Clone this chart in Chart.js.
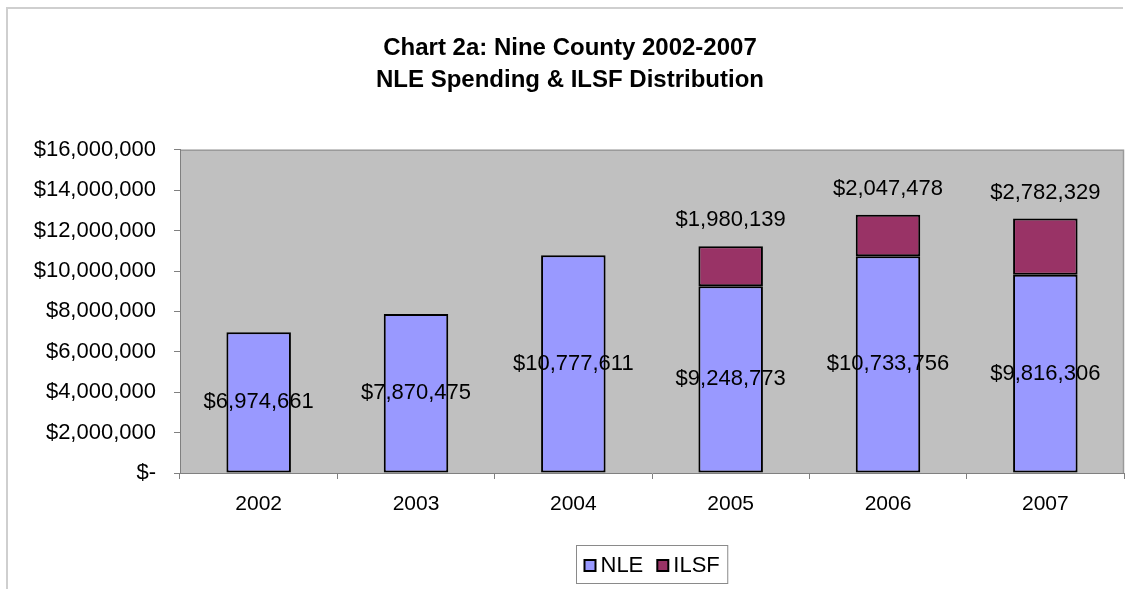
<!DOCTYPE html>
<html>
<head>
<meta charset="utf-8">
<script src="https://cdn.jsdelivr.net/npm/chart.js@4/dist/chart.umd.min.js"></script>
<style>
  html, body { margin: 0; padding: 0; background: #ffffff; }
  canvas { display: block; }
</style>
</head>
<body>
<canvas id="c" width="1129" height="589"></canvas>
<script>
const categories = ['2002', '2003', '2004', '2005', '2006', '2007'];
const nleValues = [6974661, 7870475, 10777611, 9248773, 10733756, 9816306];
const ilsfValues = [null, null, null, 1980139, 2047478, 2782329];
const yTickValues = [0, 2000000, 4000000, 6000000, 8000000, 10000000, 12000000, 14000000, 16000000];
const titleLines = ['Chart 2a: Nine County 2002-2007', 'NLE Spending & ILSF Distribution'];
const seriesNames = ['NLE', 'ILSF'];

const FONT = "Arial, 'Liberation Sans', Helvetica, sans-serif";
const NLE_COLOR = '#9999ff';
const ILSF_COLOR = '#993366';

function money(v) {
  if (!v) return '$-';
  return '$' + Math.round(v).toLocaleString('en-US');
}

const backgroundPlugin = {
  id: 'bg',
  beforeDraw(chart) {
    const ctx = chart.ctx, a = chart.chartArea;
    ctx.save();
    ctx.fillStyle = '#ffffff';
    ctx.fillRect(0, 0, chart.width, chart.height);
    // outer frame (left and top)
    ctx.strokeStyle = '#cfcfcf';
    ctx.lineWidth = 2;
    ctx.beginPath();
    ctx.moveTo(7, chart.height);
    ctx.lineTo(7, 8);
    ctx.lineTo(chart.width - 6, 8);
    ctx.stroke();
    // plot area
    ctx.fillStyle = '#c0c0c0';
    ctx.fillRect(a.left, a.top, a.right - a.left, a.bottom - a.top);
    ctx.strokeStyle = '#9a9a9a';
    ctx.lineWidth = 1.5;
    ctx.beginPath();
    ctx.moveTo(a.left, a.top + 0.5);
    ctx.lineTo(a.right - 0.5, a.top + 0.5);
    ctx.lineTo(a.right - 0.5, a.bottom);
    ctx.stroke();
    ctx.restore();
  }
};

const labelPlugin = {
  id: 'valueLabels',
  afterDatasetsDraw(chart) {
    const ctx = chart.ctx;
    ctx.save();
    ctx.font = '22px ' + FONT;
    ctx.fillStyle = '#000000';
    ctx.textAlign = 'center';
    ctx.textBaseline = 'middle';
    chart.data.datasets.forEach((ds, di) => {
      const meta = chart.getDatasetMeta(di);
      meta.data.forEach((el, i) => {
        const v = ds.data[i];
        if (v == null) return;
        if (di === 0) {
          ctx.fillText(money(v), el.x, (el.y + el.base) / 2);
        } else {
          ctx.fillText(money(v), el.x, el.y - 26);
        }
      });
    });
    ctx.restore();
  }
};

const legendPlugin = {
  id: 'boxLegend',
  afterDraw(chart) {
    const ctx = chart.ctx, a = chart.chartArea;
    ctx.save();
    ctx.font = '22px ' + FONT;
    const sw = 11, gapText = 5, gapItem = 14, padX = 8;
    const colors = [NLE_COLOR, ILSF_COLOR];
    const widths = seriesNames.map(n => ctx.measureText(n).width);
    let total = padX * 2;
    widths.forEach((w, i) => { total += sw + gapText + w + (i < widths.length - 1 ? gapItem : 0); });
    const boxH = 38;
    const cx = (a.left + a.right) / 2;
    const left = Math.round(cx - total / 2) + 0.5;
    const top = chart.height - 44 + 0.5;
    ctx.strokeStyle = '#8a8a8a';
    ctx.lineWidth = 1;
    ctx.fillStyle = '#ffffff';
    ctx.fillRect(left, top, total, boxH);
    ctx.strokeRect(left, top, total, boxH);
    let x = left + padX;
    const cy = top + boxH / 2;
    seriesNames.forEach((n, i) => {
      ctx.fillStyle = colors[i];
      ctx.fillRect(x, cy - sw / 2 + 1, sw, sw);
      ctx.strokeStyle = '#000000';
      ctx.lineWidth = 2;
      ctx.strokeRect(x, cy - sw / 2 + 1, sw, sw);
      x += sw + gapText;
      ctx.fillStyle = '#000000';
      ctx.textAlign = 'left';
      ctx.textBaseline = 'middle';
      ctx.fillText(n, x, cy + 1);
      x += widths[i] + gapItem;
    });
    ctx.restore();
  }
};

new Chart(document.getElementById('c'), {
  type: 'bar',
  data: {
    labels: categories,
    datasets: [
      {
        label: seriesNames[0],
        data: nleValues,
        backgroundColor: NLE_COLOR,
        borderColor: '#000000',
        borderWidth: 2,
        borderSkipped: false,
        barPercentage: 0.41,
        categoryPercentage: 1.0
      },
      {
        label: seriesNames[1],
        data: ilsfValues,
        backgroundColor: ILSF_COLOR,
        borderColor: '#000000',
        borderWidth: 2,
        borderSkipped: false,
        barPercentage: 0.41,
        categoryPercentage: 1.0
      }
    ]
  },
  options: {
    responsive: false,
    animation: false,
    devicePixelRatio: 1,
    layout: { padding: { left: 16, right: 5, top: 0, bottom: 66 } },
    plugins: {
      legend: { display: false },
      tooltip: { enabled: false },
      title: {
        display: true,
        text: titleLines,
        color: '#000000',
        font: { family: FONT, size: 24, weight: 'bold', lineHeight: 1.33 },
        padding: { top: 32, bottom: 54 }
      }
    },
    scales: {
      x: {
        stacked: true,
        grid: { display: true, drawOnChartArea: false, drawTicks: true, tickLength: 6, color: '#808080' },
        border: { display: true, color: '#808080', width: 1 },
        ticks: { color: '#000000', font: { family: FONT, size: 21 }, padding: 13 },
        afterFit(s) { s.height = 50; }
      },
      y: {
        stacked: true,
        min: 0,
        max: 16000000,
        afterBuildTicks(s) { s.ticks = yTickValues.map(v => ({ value: v })); },
        grid: { display: true, drawOnChartArea: false, drawTicks: true, tickLength: 6, color: '#808080' },
        border: { display: true, color: '#808080', width: 1 },
        ticks: {
          color: '#000000',
          font: { family: FONT, size: 22 },
          padding: 18,
          callback: (v) => money(v)
        },
        afterFit(s) { s.width = 164; }
      }
    }
  },
  plugins: [backgroundPlugin, labelPlugin, legendPlugin]
});
</script>
</body>
</html>
